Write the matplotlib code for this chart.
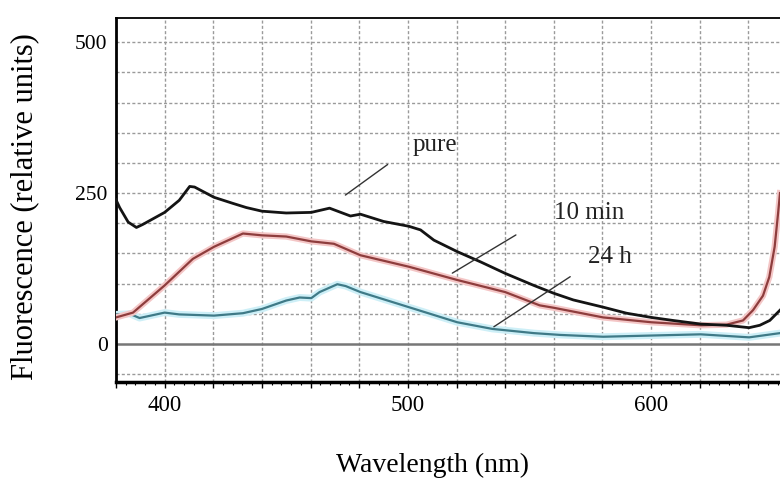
import matplotlib
matplotlib.use('Agg')
import matplotlib.pyplot as plt
import matplotlib.patheffects as pe
import numpy as np

# wavelength (nm) / fluorescence readings
wl_pure = [380, 381.5, 385, 388.4, 391, 400, 406, 410.3, 412.3, 420.3, 428, 433.6, 440, 450,
           460.3, 467.8, 476.4, 480.5, 490, 500.4, 505.2, 510.7, 520.3, 529.9, 540, 551.8,
           560, 568, 580.3, 589.9, 600.1, 609, 620.4, 631, 640.3, 644.7, 648.8, 653]
fl_pure = [239, 226, 202, 193, 198, 218, 238, 261, 260, 243, 233, 226, 220, 217,
           218, 225, 212, 215, 203, 195, 189, 172, 153, 136, 117, 97,
           84, 73, 61, 51, 44, 39, 33, 31, 27, 31, 39, 56]

wl_10min = [380, 387, 400, 411.6, 420.3, 432.2, 440, 450, 460.3, 469.6, 480.5, 500.4, 520.3,
            540, 554.2, 560, 580.3, 600.1, 620.4, 631, 637.8, 641.9, 646, 648.6, 650.8, 652.2, 653]
fl_10min = [44, 52, 97, 141, 161, 183, 180, 178, 170, 166, 147, 128, 106,
            86, 64, 60, 44, 36, 31, 32, 39, 56, 80, 111, 161, 216, 250]

wl_24h = [380, 385.6, 389.7, 400, 406, 420.3, 432.2, 440, 450, 455.5, 460.3, 463.7, 471,
          474.4, 480.5, 500.4, 520.3, 534.7, 551.8, 562.7, 580.3, 600.1, 620.4, 640.3, 653]
fl_24h = [49, 50, 43, 52, 49, 47, 51, 58, 72, 77, 76, 86, 99,
          96, 86, 61, 36, 25, 18, 15, 12, 14, 16, 11, 18]

# annotation: label, text position, leader line (start, end)
labels = ['pure', '10 min', '24 h']
label_pos = [(511, 330), (574.5, 217), (583, 144)]
leaders = [((473.4, 244), (492.6, 300)),
           ((517.3, 115), (545.4, 183)),
           ((534.4, 26), (567.7, 114))]

plt.rcParams['font.family'] = ['Liberation Serif', 'DejaVu Serif']

fig = plt.figure(figsize=(7.8, 4.84), dpi=100)
ax = fig.add_axes([0.1487, 0.2107, 0.8513, 0.7521])

grid_kw = dict(color='#9a9a9a', linestyle=(0, (2.2, 1.6)), linewidth=1.0, zorder=1)
for gx in np.arange(380, 654, 20):
    ax.axvline(gx, **grid_kw)
for gy in np.arange(-50, 501, 50):
    if gy != 0:
        ax.axhline(gy, **grid_kw)
ax.axhline(0, color='#777777', linewidth=1.8, zorder=2)

ax.plot(wl_24h, fl_24h, color='#3f7a87', linewidth=1.6, zorder=3,
        path_effects=[pe.Stroke(linewidth=5, foreground='#cdeff7'), pe.Normal()])
ax.plot(wl_10min, fl_10min, color='#8e3d3d', linewidth=1.6, zorder=4,
        path_effects=[pe.Stroke(linewidth=4.5, foreground='#f4c6c6'), pe.Normal()])
ax.plot(wl_pure, fl_pure, color='#141414', linewidth=2.0, zorder=5)

for lab, pos, (p0, p1) in zip(labels, label_pos, leaders):
    ax.annotate('', xy=p0, xytext=p1,
                arrowprops=dict(arrowstyle='-', color='#333333', lw=1.0), zorder=6)
    ax.text(pos[0], pos[1], lab, ha='center', va='center', fontsize=18, color='#222222', zorder=6)

ax.set_xlim(380, 653)
ax.set_ylim(-63, 540)

xt = np.arange(380, 654, 20)
ax.set_xticks(xt)
ax.set_xticklabels([str(v) if v % 100 == 0 else '' for v in xt])
ax.set_xticks(np.arange(380, 654, 4), minor=True)
ax.set_yticks([0, 250, 500])
ax.tick_params(axis='x', which='major', direction='out', length=4, width=1, pad=5, labelsize=16.5)
ax.tick_params(axis='x', which='minor', direction='out', length=2.5, width=0.8)
ax.tick_params(axis='y', length=0, pad=6, labelsize=15.5)

ax.spines['right'].set_visible(False)
ax.spines['left'].set_linewidth(2)
ax.spines['bottom'].set_linewidth(2.5)
ax.spines['top'].set_linewidth(1.3)

ax.set_xlabel('Wavelength (nm)', fontsize=20)
ax.xaxis.set_label_coords(0.476, -0.228)
ax.xaxis.label.set_va('center')
ax.set_ylabel('Fluorescence (relative units)', fontsize=22)
ax.yaxis.set_label_coords(-0.137, 0.481)
ax.yaxis.label.set_va('center')

fig.savefig('out.png', dpi=100)
